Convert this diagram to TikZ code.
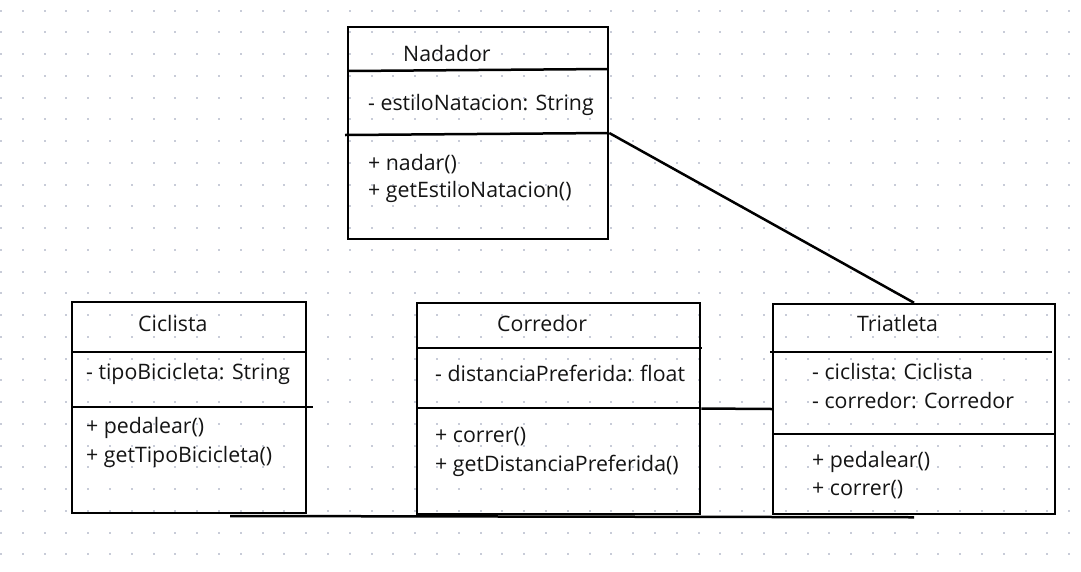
\documentclass[tikz,border=0pt]{standalone}
\usepackage{fontspec}
\setmainfont{Open Sans}
\definecolor{griddot}{RGB}{200,204,216}
\definecolor{inkblack}{RGB}{20,20,20}
\tikzset{
  classbox/.style={draw, rectangle, line width=2.5pt, inner sep=0pt},
  divider/.style={line width=2.5pt},
  assoc/.style={line width=2.5pt},
  member/.style={anchor=base west, inner sep=0pt, text=inkblack, font=\fontsize{21.3}{25}\selectfont}
}
\begin{document}
\begin{tikzpicture}[x=1pt,y=-1pt]
	\useasboundingbox (0,0) rectangle (1081,571);
	\fill[white] (0,0) rectangle (1081,571);
	% dot grid
	\foreach \i in {0,...,49}
		\foreach \j in {0,...,25}
			\fill[griddot] (21.8*\i, 9.7+21.75*\j) rectangle ++(2,2);

	% classes
	\node[classbox, minimum width=260pt, minimum height=212pt] (nadador) at (478,133) {};
	\node[classbox, minimum width=234pt, minimum height=211pt] (ciclista) at (189,407.5) {};
	\node[classbox, minimum width=283pt, minimum height=211pt] (corredor) at (558.5,408.5) {};
	\node[classbox, minimum width=282pt, minimum height=210pt] (triatleta) at (914,409) {};

	% compartments
	\draw[divider] (348,71)--(608,69);
	\draw[divider] (345,135)--(608,133);
	\draw[divider] (72,352)--(306,352);
	\draw[divider] (72,407)--(313,407);
	\draw[divider] (417,348)--(702,348);
	\draw[divider] (417,408)--(700,408);
	\draw[divider] (770,352)--(1052,352);
	\draw[divider] (773,434)--(1055,434);

	% texts
	\node[member] (nadador-name) at (403,61) {Nadador};
	\node[member] (nadador-attr) at (368,110) {- estiloNatacion: String};
	\node[member] (nadador-op1) at (368,170) {+ nadar()};
	\node[member] (nadador-op2) at (368,197) {+ getEstiloNatacion()};

	\node[member] (ciclista-name) at (138,331) {Ciclista};
	\node[member] (ciclista-attr) at (86,379) {- tipoBicicleta: String};
	\node[member] (ciclista-op1) at (86,433) {+ pedalear()};
	\node[member] (ciclista-op2) at (86,462) {+ getTipoBicicleta()};

	\node[member] (corredor-name) at (497,331) {Corredor};
	\node[member] (corredor-attr) at (435,381) {- distanciaPreferida: float};
	\node[member] (corredor-op1) at (435,442) {+ correr()};
	\node[member] (corredor-op2) at (435,471) {+ getDistanciaPreferida()};

	\node[member] (triatleta-name) at (857,331) {Triatleta};
	\node[member] (triatleta-attr1) at (812,379) {- ciclista: Ciclista};
	\node[member] (triatleta-attr2) at (812,408) {- corredor: Corredor};
	\node[member] (triatleta-op1) at (812,467) {+ pedalear()};
	\node[member] (triatleta-op2) at (812,495) {+ correr()};

	% associations
	\coordinate (ciclista-tail) at (230,516);
	\draw[assoc] (nadador.east) -- (triatleta.north);
	\draw[assoc] (corredor.east) -- (triatleta.west);
	\draw[assoc] (ciclista-tail) -- ([yshift=-2pt]triatleta.south);
\end{tikzpicture}
\end{document}
